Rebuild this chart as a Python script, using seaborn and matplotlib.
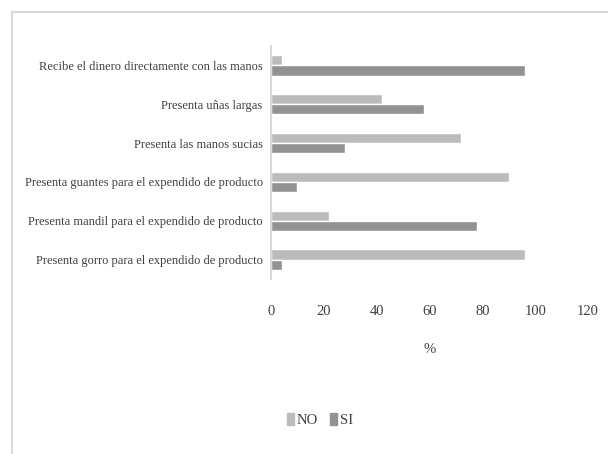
import matplotlib
matplotlib.use("Agg")
import matplotlib.pyplot as plt
from matplotlib.lines import Line2D
import seaborn as sns
import pandas as pd

categories = [
    "Recibe el dinero directamente con las manos",
    "Presenta uñas largas",
    "Presenta las manos sucias",
    "Presenta guantes para el expendido de producto",
    "Presenta mandil para el expendido de producto",
    "Presenta gorro para el expendido de producto",
]
no_values = [4, 42, 72, 90, 22, 96]
si_values = [96, 58, 28, 10, 78, 4]
series_names = ["NO", "SI"]
x_ticks = [0, 20, 40, 60, 80, 100, 120]

df = pd.DataFrame({
    "categoria": categories * 2,
    "valor": no_values + si_values,
    "serie": [series_names[0]] * len(categories) + [series_names[1]] * len(categories),
})

sns.set_style("white")
plt.rcParams["font.family"] = ["Liberation Serif", "DejaVu Serif"]

text_color = "#404040"
palette = {"NO": "#bbbbbb", "SI": "#929292"}

fig = plt.figure(figsize=(6.08, 4.54), dpi=100)
ax = fig.add_axes([271 / 608, 1 - 279 / 454, (588 - 271) / 608, (279 - 46) / 454])

sns.barplot(
    data=df, y="categoria", x="valor", hue="serie", order=categories,
    hue_order=series_names, palette=palette, orient="h", width=0.52,
    saturation=1, ax=ax, legend=False,
)

ax.set_xlim(0, 120)
ax.set_xticks(x_ticks)
ax.set_xticklabels([str(t) for t in x_ticks], fontsize=10.5, color=text_color)
ax.tick_params(axis="x", length=0, pad=19)
ax.tick_params(axis="y", length=0, pad=6, labelsize=9, labelcolor=text_color)
ax.set_ylabel("")
ax.set_xlabel("%", fontsize=10.5, color=text_color, labelpad=18)

for side in ["top", "right", "bottom"]:
    ax.spines[side].set_visible(False)
ax.spines["left"].set_color("#d9d9d9")
ax.spines["left"].set_linewidth(1.5)

# chart area frame
fig.add_artist(Line2D([12 / 608, 1.0], [1 - 12 / 454] * 2, color="#d9d9d9", lw=1.5,
                      transform=fig.transFigure))
fig.add_artist(Line2D([12 / 608] * 2, [0.0, 1 - 12 / 454], color="#d9d9d9", lw=1.5,
                      transform=fig.transFigure))

handles = [plt.Rectangle((0, 0), 1, 1, color=palette[s]) for s in series_names]
fig.legend(handles, series_names, loc="center", bbox_to_anchor=(320 / 608, 1 - 420 / 454),
           ncol=2, frameon=False, fontsize=10.5, labelcolor=text_color,
           handlelength=0.5, handleheight=0.9, handletextpad=0.2, columnspacing=0.8)

fig.savefig("out.png", dpi=100, facecolor="white")
